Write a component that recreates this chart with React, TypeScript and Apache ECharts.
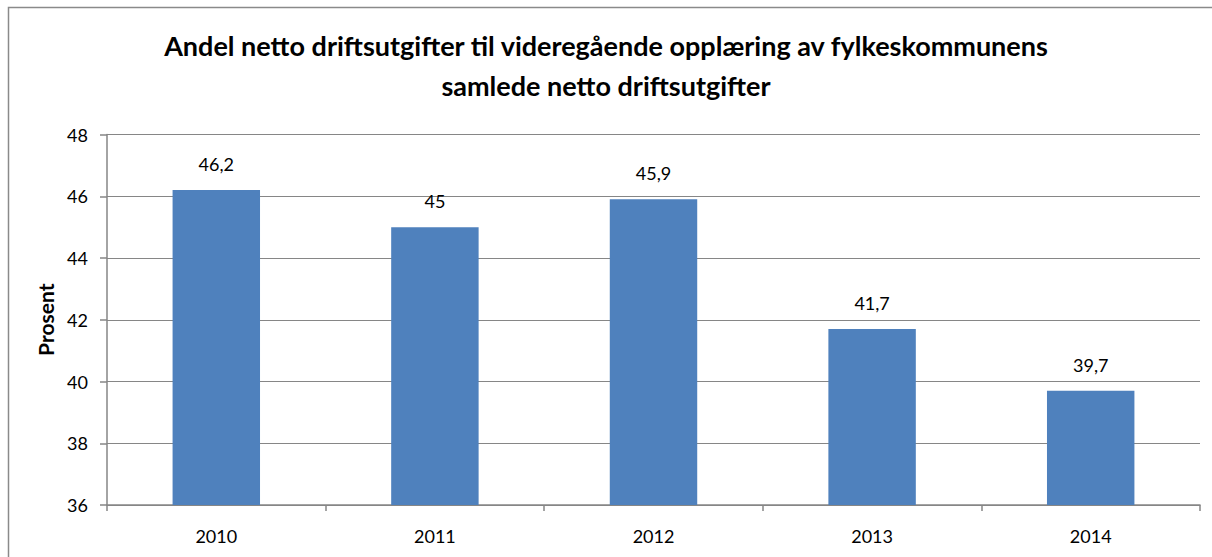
import React, { useEffect, useRef } from "react";
import * as echarts from "echarts";

const years = ["2010", "2011", "2012", "2013", "2014"];
const shares = [46.2, 45, 45.9, 41.7, 39.7];
const titleLines = [
  "Andel netto driftsutgifter til videregående opplæring av fylkeskommunens",
  "samlede netto driftsutgifter",
];
const yAxisName = "Prosent";

export default function App() {
  const ref = useRef<HTMLDivElement>(null);
  useEffect(() => {
    if (!ref.current) return;
    const chart = echarts.init(ref.current, null, { renderer: "svg" });
    const font = "Lato, 'Open Sans', sans-serif";
    chart.setOption({
      animation: false,
      backgroundColor: "#ffffff",
      title: {
        text: titleLines.join("\n"),
        left: "center",
        top: 20,
        textStyle: {
          fontFamily: font,
          fontWeight: "bold",
          fontSize: 27,
          lineHeight: 40,
          color: "#000",
        },
      },
      graphic: [
        {
          type: "rect",
          shape: { x: 8.5, y: 7.5, width: 1300, height: 700 },
          style: { fill: "none", stroke: "#8a8a8a", lineWidth: 1.5 },
          silent: true,
        },
      ],
      grid: { left: 107, right: 12, top: 134.5, bottom: 52 },
      xAxis: {
        type: "category",
        data: years,
        axisLine: { lineStyle: { color: "#868686", width: 1.5 } },
        axisTick: { show: true, length: 6, lineStyle: { color: "#868686", width: 1.5 } },
        axisLabel: { fontFamily: font, fontSize: 18, color: "#000", margin: 22 },
      },
      yAxis: {
        type: "value",
        min: 36,
        max: 48,
        interval: 2,
        name: yAxisName,
        nameLocation: "middle",
        nameGap: 50,
        nameRotate: 90,
        nameTextStyle: { fontFamily: font, fontSize: 21, fontWeight: "bold", color: "#000" },
        axisLine: { show: true, lineStyle: { color: "#868686", width: 1.5 } },
        axisTick: { show: true, length: 7, lineStyle: { color: "#868686", width: 1.5 } },
        axisLabel: { fontFamily: font, fontSize: 18, color: "#000", margin: 19 },
        splitLine: { lineStyle: { color: "#868686", width: 1.2 } },
      },
      series: [
        {
          type: "bar",
          data: shares,
          barWidth: "40%",
          itemStyle: { color: "#4F81BD" },
          label: {
            show: true,
            position: "top",
            distance: 17,
            fontFamily: font,
            fontSize: 18,
            color: "#000",
            formatter: (p: any) => String(p.value).replace(".", ","),
          },
        },
      ],
    });
    return () => chart.dispose();
  }, []);
  return (
    <div
      ref={ref}
      style={{ position: "absolute", left: 0, top: 0, width: 1212, height: 557 }}
    />
  );
}
